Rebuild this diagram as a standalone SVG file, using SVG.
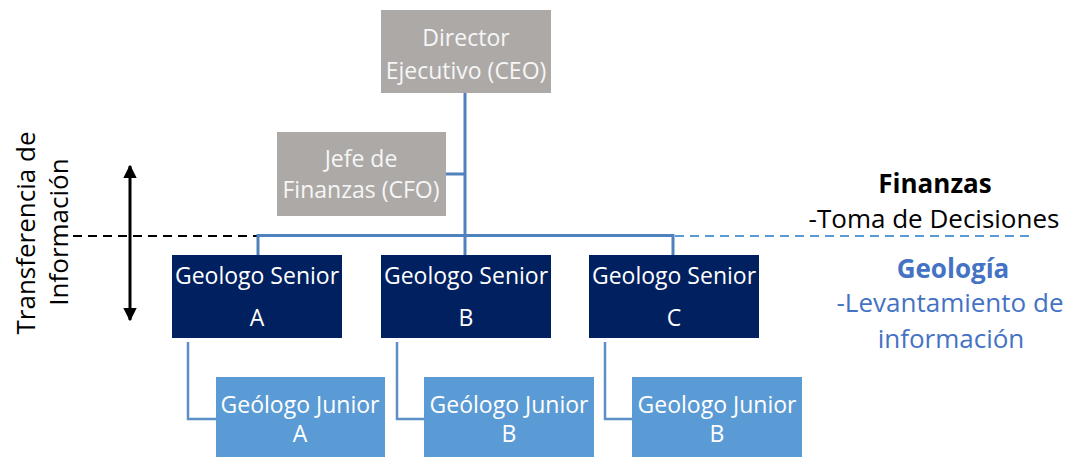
<svg xmlns="http://www.w3.org/2000/svg" width="1074" height="457" viewBox="0 0 1074 457">
  <style>
    text { font-family: "Open Sans", "Noto Sans", "Liberation Sans", sans-serif; font-size: 23px; text-anchor: middle; }
    .exec rect { fill: #ADA9A7; }
    .exec text { fill: #F6F6F6; }
    .senior rect { fill: #002060; }
    .senior text { fill: #FFFFFF; }
    .junior rect { fill: #5B9BD5; }
    .junior text { fill: #FFFFFF; }
    .link { fill: none; stroke: #4F81BD; stroke-width: 3; }
    .sublink { fill: none; stroke: #5B8FC8; stroke-width: 2.5; }
    .dash-black { stroke: #000; stroke-width: 2; stroke-dasharray: 9 6; }
    .dash-blue { stroke: #5B9BD5; stroke-width: 2; stroke-dasharray: 9 6; }
    .label text { fill: #000; font-size: 26px; }
    .label-blue text { fill: #4472C4; font-size: 26px; }
  </style>
  <defs>
    <marker id="head" viewBox="0 0 10 10" refX="9" refY="5" markerWidth="4.5" markerHeight="4.5" orient="auto-start-reverse" markerUnits="strokeWidth">
      <path d="M0,0 L10,5 L0,10 Z" fill="#000"/>
    </marker>
  </defs>

  <rect width="1074" height="457" fill="#FFFFFF"/>

  <!-- connectors -->
  <g id="connectors">
    <line class="dash-black" x1="73" y1="236" x2="258" y2="236"/>
    <line class="dash-blue" x1="675" y1="236" x2="1034" y2="236"/>
    <path class="link" d="M465,93 V236"/>
    <path class="link" d="M446,174 H465"/>
    <path class="link" d="M258,255 V235.5 H673 V255"/>
    <path class="link" d="M465,236 V255"/>
    <path class="sublink" d="M188,342 V419 H216"/>
    <path class="sublink" d="M397,342 V419 H424"/>
    <path class="sublink" d="M605,342 V419 H632"/>
    <line x1="130" y1="166" x2="130" y2="320" stroke="#000" stroke-width="3" marker-start="url(#head)" marker-end="url(#head)"/>
  </g>

  <!-- executives -->
  <g id="ceo" class="exec">
    <rect x="381" y="10" width="170" height="83"/>
    <text x="466" y="46">Director</text>
    <text x="466" y="79">Ejecutivo (CEO)</text>
  </g>
  <g id="cfo" class="exec">
    <rect x="277" y="132" width="169" height="84"/>
    <text x="361" y="167">Jefe de</text>
    <text x="361" y="198">Finanzas (CFO)</text>
  </g>

  <!-- senior geologists -->
  <g id="senior-a" class="senior">
    <rect x="172" y="255" width="170" height="83"/>
    <text x="257" y="284">Geologo Senior</text>
    <text x="257" y="326">A</text>
  </g>
  <g id="senior-b" class="senior">
    <rect x="381" y="255" width="170" height="83"/>
    <text x="466" y="284">Geologo Senior</text>
    <text x="466" y="326">B</text>
  </g>
  <g id="senior-c" class="senior">
    <rect x="589" y="255" width="170" height="83"/>
    <text x="674" y="284">Geologo Senior</text>
    <text x="674" y="326">C</text>
  </g>

  <!-- junior geologists -->
  <g id="junior-a" class="junior">
    <rect x="216" y="377" width="169" height="85"/>
    <text x="300" y="413">Geólogo Junior</text>
    <text x="300" y="442">A</text>
  </g>
  <g id="junior-b" class="junior">
    <rect x="424" y="377" width="170" height="85"/>
    <text x="509" y="413">Geólogo Junior</text>
    <text x="509" y="442">B</text>
  </g>
  <g id="junior-c" class="junior">
    <rect x="632" y="377" width="170" height="85"/>
    <text x="717" y="413">Geologo Junior</text>
    <text x="717" y="442">B</text>
  </g>

  <!-- side labels -->
  <g id="transfer-label" class="label">
    <text transform="translate(35,233) rotate(-90)">Transferencia de</text>
    <text transform="translate(68,232) rotate(-90)">Información</text>
  </g>
  <g id="finance-label" class="label">
    <text x="935" y="193" font-weight="bold">Finanzas</text>
    <text x="934" y="228">-Toma de Decisiones</text>
  </g>
  <g id="geology-label" class="label-blue">
    <text x="953" y="278" font-weight="bold">Geología</text>
    <text x="950" y="312">-Levantamiento de</text>
    <text x="951" y="348">información</text>
  </g>
</svg>
